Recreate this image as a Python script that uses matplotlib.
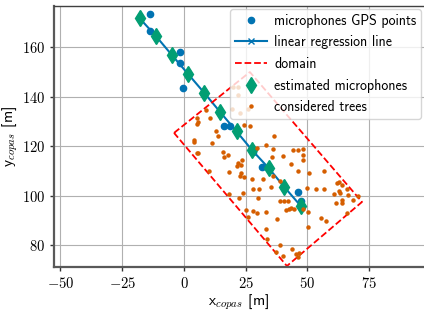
import matplotlib.pyplot as plt
from matplotlib.ticker import FuncFormatter

plt.rcParams['mathtext.fontset'] = 'cm'
plt.rcParams['font.family'] = ['cmss10', 'DejaVu Sans']

# microphone positions measured with GPS
GPS_X = [-13.8, -13.8, -1.6, -1.6, -0.5, 16.2, 18.6, 27.9, 31.7, 46.3, 47.4]
GPS_Y = [173.3, 166.6, 157.9, 153.4, 143.4, 128.0, 128.0, 117.4, 111.4, 101.3, 97.8]

# estimated microphones (on the regression line)
EST_X = [-17.9, -11.3, -4.9, 1.7, 8.3, 14.7, 21.3, 27.7, 34.4, 40.5, 47.2]
EST_Y = [171.6, 164.4, 156.8, 149.1, 141.4, 133.7, 125.9, 118.2, 111.0, 103.6, 95.9]

# domain corners
DOMAIN_X = [-4.0, 26.7, 72.1, 41.7, -4.0]
DOMAIN_Y = [125.3, 149.9, 97.4, 71.5, 125.3]

TREES_X = [33.1, 29.7, 35.9, 44.3, 46.2, 48.1, 35.6, 40.0, 48.1, 48.3, 23.6, 21.7,
           21.6, 23.2, 22.7, 24.3, 43.3, 46.3, 50.7, 27.7, 35.9, 31.9, 28.1, 30.5,
           35.1, 49.7, 24.0, 22.4, 29.8, 38.9, 40.5, 42.0, 42.6, 43.3, 41.3, 44.7,
           48.1, 50.3, 25.1, 27.8, 29.7, 33.1, 26.0, 37.8, 33.1, 33.5, 39.1, 55.7,
           57.5, 50.1, 43.6, 40.2, 45.3, 46.3, 46.7, 37.2, 53.3, 61.8, 62.8, 60.7,
           63.2, 66.0, 66.5, 64.1, 64.1, 61.7, 68.5, 66.1,
           5.1, 5.5, 5.1, 8.9, 10.5, 4.0, 4.2, 11.2, 13.0, 13.9, 15.9, 16.2, 18.0,
           5.4, 5.8, 10.1, 18.3, 23.1, 25.8, 22.7, 19.3, 22.0, 20.0, 22.0, 18.1,
           24.3, 26.7, 36.6, 38.9, 56.7, 64.1, 70.6, 56.7, 62.8]
TREES_Y = [120.5, 119.1, 118.7, 118.4, 118.4, 118.7, 115.7, 116.0, 116.4, 114.3, 114.3, 113.0,
           111.9, 109.0, 108.0, 107.6, 112.7, 109.9, 109.0, 106.5, 107.9, 106.5, 102.5, 102.5,
           103.6, 102.9, 100.9, 98.9, 98.9, 97.8, 97.8, 97.8, 94.4, 94.8, 94.1, 94.4,
           94.4, 93.5, 94.1, 93.7, 93.0, 93.5, 91.2, 90.5, 86.5, 82.4, 80.0, 91.0,
           89.6, 87.4, 78.3, 75.6, 76.4, 75.0, 76.6, 77.3, 102.5, 105.2, 105.6, 100.6,
           100.9, 102.5, 100.2, 98.2, 96.8, 96.8, 98.2, 93.0,
           128.8, 129.8, 131.2, 134.5, 131.2, 122.4, 121.5, 121.1, 126.1, 124.0, 117.7, 115.4, 116.4,
           117.3, 117.0, 110.0, 109.4, 112.3, 134.8, 133.5, 134.9, 140.6, 143.7, 143.7, 100.6,
           128.5, 128.1, 124.2, 105.9, 109.9, 104.1, 99.8, 102.6, 101.9]

X_TICKS = [-50, -25, 0, 25, 50, 75]
Y_TICKS = [80, 100, 120, 140, 160]

BLUE = '#0173b2'
GREEN = '#029e73'
ORANGE = '#d55e00'

fig = plt.figure(figsize=(4.24, 3.12), dpi=100)
ax = fig.add_axes([54 / 424, 45 / 312, 370 / 424, 261 / 312])

ax.plot(GPS_X, GPS_Y, 'o', color=BLUE, ms=4.5, label='microphones GPS points')
ax.plot(EST_X, EST_Y, '-x', color=BLUE, ms=4, lw=1.5, label='linear regression line')
ax.plot(DOMAIN_X, DOMAIN_Y, 'r--', lw=1.3, label='domain')
ax.plot(EST_X, EST_Y, 'd', color=GREEN, ms=8, ls='none', label='estimated microphones')
ax.plot(TREES_X, TREES_Y, 'o', color=ORANGE, ms=2.2, ls='none', label='considered trees')

ax.set_xlim(-52.6, 97.2)
ax.set_ylim(71.1, 176.6)
ax.set_xticks(X_TICKS)
ax.set_yticks(Y_TICKS)
fmt = FuncFormatter(lambda v, p: f'${v:g}$')
ax.xaxis.set_major_formatter(fmt)
ax.yaxis.set_major_formatter(fmt)
ax.tick_params(labelsize=10.5, length=3, width=1, color='0.2')
ax.grid(True, color='#b0b0b0', lw=0.8)
ax.set_axisbelow(True)

for side in ['left', 'bottom']:
    ax.spines[side].set_linewidth(1.6)
    ax.spines[side].set_color('0.35')
ax.spines['top'].set_linewidth(1.0)
ax.spines['top'].set_color('0.25')
ax.spines['right'].set_visible(False)

ax.set_xlabel(r'x$_{copas}$ [m]', fontsize=11, labelpad=1)
ax.set_ylabel(r'y$_{copas}$ [m]', fontsize=11, labelpad=1)

ax.legend(loc='upper right', fontsize=10, framealpha=0.8, borderaxespad=0.2,
          handlelength=2.3, handletextpad=0.5, borderpad=0.35, labelspacing=0.55)

plt.savefig('out.png', dpi=100)
